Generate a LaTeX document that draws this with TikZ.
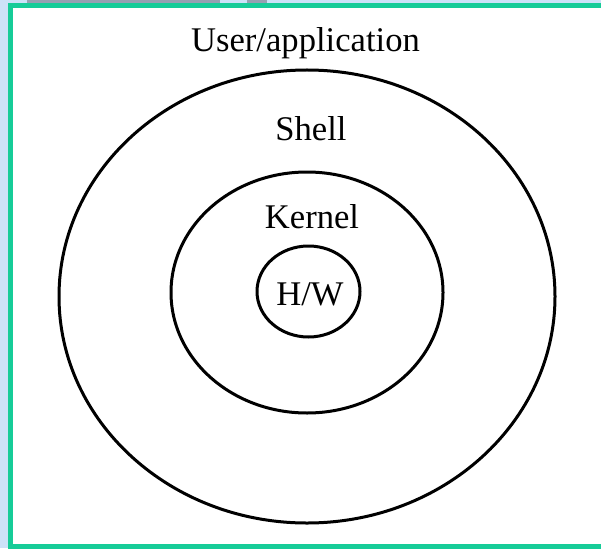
\documentclass[tikz,border=0pt]{standalone}
\usepackage{fontspec}
\setmainfont{Liberation Serif}
\usetikzlibrary{shapes.geometric}
\definecolor{frameteal}{RGB}{22,204,152}
\definecolor{bgblue}{RGB}{204,226,248}
\definecolor{blobgray}{RGB}{150,160,178}
\begin{document}
\begin{tikzpicture}[x=1pt,y=-1pt,
  ring/.style={draw=black,line width=3pt,ellipse,inner sep=0pt},
  lbl/.style={font=\fontsize{34.6}{37}\selectfont,inner sep=0pt,anchor=base}]
\useasboundingbox (0,0) rectangle (601,548);
% outside background
\fill[bgblue] (0,0) rectangle (601,548);
\fill[blobgray] (27,0) rectangle (220,3);
\fill[blobgray] (247,0) rectangle (267,3);
% panel with frame
\fill[white] (10,6) rectangle (601,546.5);
\draw[frameteal,line width=5pt] (606,5.8) -- (10,5.8) -- (10,546.5) -- (606,546.5);
% rings
\node[ring,minimum width=496pt,minimum height=453pt] (outer) at (307,296.5) {};
\node[ring,minimum width=272pt,minimum height=241pt] (middle) at (307,292.5) {};
\node[ring,minimum width=103pt,minimum height=91pt] (inner) at (308.5,291.5) {};
% labels
\node[lbl] (user) at (305.5,52) {User/application};
\node[lbl] (shell) at (311,141) {Shell};
\node[lbl] (kernel) at (312,228) {Kernel};
\node[lbl] (hw) at (310,305) {H/W};
\end{tikzpicture}
\end{document}
